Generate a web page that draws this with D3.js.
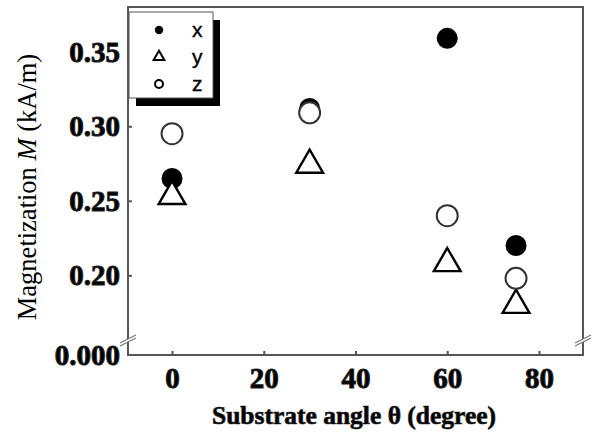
<!DOCTYPE html>
<html>
<head>
<meta charset="utf-8">
<script src="https://cdn.jsdelivr.net/npm/d3@7"></script>
<style>
  body { margin: 0; background: #fff; }
  .tick text { font-family: "Liberation Serif", serif; font-weight: bold; font-size: 29px; fill: #000; stroke: #222; stroke-width: 1px; }
</style>
</head>
<body>
<svg id="chart" width="594" height="437"></svg>
<script>
// data
let angles = [0, 30, 60, 75];
let magX = [0.265, 0.312, 0.359, 0.220];
let magY = [0.253, 0.274, 0.208, 0.180];
let magZ = [0.295, 0.309, 0.240, 0.198];
let xTicks = [0, 20, 40, 60, 80];
let yTicks = [0.20, 0.25, 0.30, 0.35];
let yTickLabels = ["0.20", "0.25", "0.30", "0.35"];
let seriesNames = ["x", "y", "z"];

let margin = {top: 7, right: 11, bottom: 82, left: 128};
let width = 594 - margin.left - margin.right;
let height = 437 - margin.top - margin.bottom;
let breakY = 330; // upper segment ends here (relative to top margin)

let svg = d3.select("#chart");
let g = svg.append("g")
  .attr("transform", "translate(" + margin.left + "," + margin.top + ")");

let x = d3.scaleLinear().domain([-9.6, 89.6]).range([0, width]);
let y = d3.scaleLinear().domain([0.16, 0.38]).range([breakY - 2, 0]);
let yLow = d3.scaleLinear().domain([0, 0.01]).range([height, height - 15]);

let axisColor = "#555";

// x axis
let xAxis = g.append("g")
  .attr("transform", "translate(0," + height + ")")
  .call(d3.axisBottom(x).tickValues(xTicks).tickSize(-4).tickSizeOuter(0).tickPadding(12));
// upper y axis
let yAxis = g.append("g")
  .call(d3.axisLeft(y).tickValues(yTicks).tickFormat(function(d, i) { return yTickLabels[i]; })
    .tickSize(-4).tickSizeOuter(0).tickPadding(8));
// lower y axis, single tick at zero
let yAxisLow = g.append("g")
  .call(d3.axisLeft(yLow).tickValues([0]).tickFormat(function() { return "0.000"; })
    .tickSize(0).tickPadding(8));
[xAxis, yAxis, yAxisLow].forEach(function(a) {
  a.select(".domain").remove();
  a.selectAll(".tick line").attr("stroke", axisColor).attr("stroke-width", 2);
});

// frame
g.append("path")
  .attr("d", "M0,0H" + width + "V" + height + "H0Z")
  .attr("fill", "none")
  .attr("stroke", axisColor)
  .attr("stroke-width", 2);

// axis break marks
[0, width].forEach(function(bx) {
  let by = breakY + 2;
  g.append("path")
    .attr("d", "M" + (bx - 8) + "," + (by + 4) + "L" + (bx + 8) + "," + (by - 4) +
      "L" + (bx + 8) + "," + (by - 1) + "L" + (bx - 8) + "," + (by + 7) + "Z")
    .attr("fill", "#fff");
  g.append("path")
    .attr("d", "M" + (bx - 8) + "," + (by + 4) + "L" + (bx + 8) + "," + (by - 4) +
      "M" + (bx - 8) + "," + (by + 7) + "L" + (bx + 8) + "," + (by - 1))
    .attr("stroke", "#777")
    .attr("stroke-width", 1.2);
});

// markers
let circleSym = d3.symbol().type(d3.symbolCircle).size(Math.PI * 10.5 * 10.5);
let triSym = d3.symbol().type(d3.symbolTriangle).size(310);

g.selectAll(".mx").data(angles).join("path")
  .attr("transform", function(d, i) { return "translate(" + x(d) + "," + y(magX[i]) + ")"; })
  .attr("d", circleSym)
  .attr("fill", "#000");
g.selectAll(".my").data(angles).join("path")
  .attr("transform", function(d, i) { return "translate(" + x(d) + "," + y(magY[i]) + ")"; })
  .attr("d", triSym)
  .attr("fill", "#fff")
  .attr("stroke", "#000")
  .attr("stroke-width", 2.4);
g.selectAll(".mz").data(angles).join("path")
  .attr("transform", function(d, i) { return "translate(" + x(d) + "," + y(magZ[i]) + ")"; })
  .attr("d", circleSym)
  .attr("fill", "#fff")
  .attr("stroke", "#333")
  .attr("stroke-width", 2);

// legend
let lg = svg.append("g").attr("transform", "translate(129,12)");
lg.append("rect").attr("x", 7).attr("y", 8).attr("width", 84).attr("height", 86).attr("fill", "#000");
lg.append("rect").attr("width", 84).attr("height", 86).attr("fill", "#fff").attr("stroke", "#555").attr("stroke-width", 1);
let legSyms = [
  d3.symbol().type(d3.symbolCircle).size(55),
  d3.symbol().type(d3.symbolTriangle).size(50),
  d3.symbol().type(d3.symbolCircle).size(50)
];
let legFill = ["#000", "#fff", "#fff"];
seriesNames.forEach(function(name, i) {
  let ry = 18 + i * 27;
  lg.append("path")
    .attr("transform", "translate(30," + ry + ")")
    .attr("d", legSyms[i])
    .attr("fill", legFill[i])
    .attr("stroke", "#000")
    .attr("stroke-width", i === 0 ? 0 : 2);
  lg.append("text")
    .attr("x", 63).attr("y", ry + 7)
    .attr("font-family", "Liberation Sans, sans-serif")
    .attr("font-size", 21)
    .attr("stroke", "#000").attr("stroke-width", 0.4)
    .text(name);
});

// axis titles
svg.append("text")
  .attr("x", 354).attr("y", 424)
  .attr("text-anchor", "middle")
  .attr("font-family", "Liberation Serif, serif")
  .attr("font-weight", "bold")
  .attr("font-size", 25.5)
  .attr("stroke", "#222").attr("stroke-width", 0.7)
  .text("Substrate angle θ (degree)");

let yt = svg.append("text")
  .attr("transform", "translate(36,187) rotate(-90)")
  .attr("text-anchor", "middle")
  .attr("font-family", "Liberation Serif, serif")
  .attr("font-size", 26.5);
yt.append("tspan").text("Magnetization ");
yt.append("tspan").attr("font-style", "italic").text("M");
yt.append("tspan").text(" (kA/m)");
</script>
</body>
</html>
